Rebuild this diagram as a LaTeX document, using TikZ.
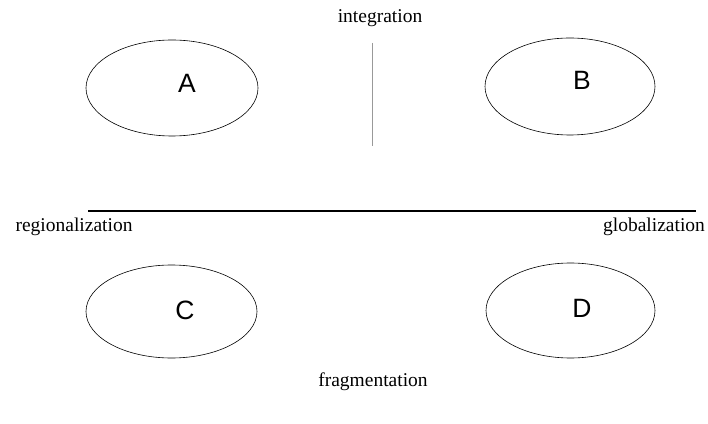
\documentclass[tikz,border=0pt]{standalone}
\usepackage{fontspec}
\setmainfont{Liberation Serif}
\newfontfamily\lettersans{Liberation Sans}
\usetikzlibrary{shapes.geometric}

\begin{document}
\begin{tikzpicture}[
    region/.style={ellipse, draw, line width=0.6pt, inner sep=0pt},
    letter/.style={font=\lettersans\fontsize{26.5}{26.5}\selectfont},
    axislabel/.style={font=\fontsize{19.5}{20}\selectfont, inner sep=0pt}
  ]
    \useasboundingbox (0,0) rectangle (708pt,423pt);

    \node[region, minimum width=172pt, minimum height=96pt] (a) at (172pt,335pt) {};
    \node[region, minimum width=170pt, minimum height=97pt] (b) at (570pt,336.5pt) {};
    \node[region, minimum width=171pt, minimum height=93pt] (c) at (171.5pt,111.5pt) {};
    \node[region, minimum width=169pt, minimum height=95pt] (d) at (570.5pt,112.5pt) {};

    \node[letter] (la) at ([xshift=15pt,yshift=5pt]a.center) {A};
    \node[letter] (lb) at ([xshift=12pt,yshift=6pt]b.center) {B};
    \node[letter] (lc) at ([xshift=13.5pt,yshift=1.5pt]c.center) {C};
    \node[letter] (ld) at ([xshift=11.5pt,yshift=2.5pt]d.center) {D};

    \node[axislabel] (integ) at (380pt,405pt) {integration};
    \node[axislabel] (frag) at (373pt,41pt) {fragmentation};
    \node[axislabel] (regio) at (74pt,196pt) {regionalization};
    \node[axislabel] (glob) at (654pt,196pt) {globalization};

    \coordinate (west) at (88pt,212pt);
    \coordinate (east) at (696pt,212pt);
    \coordinate (top) at (372pt,380pt);
    \coordinate (bottom) at (372pt,277pt);

    \draw[line width=2.6pt] (west) -- (east);
    \draw[gray!80, line width=0.5pt] (top) -- (bottom);
  \end{tikzpicture}
\end{document}
